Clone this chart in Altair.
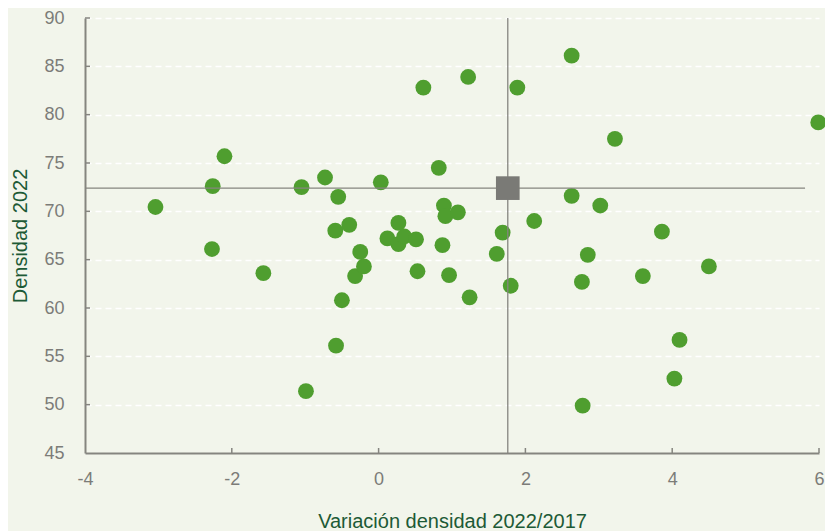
import altair as alt
import pandas as pd

# Data
var_x = [-3.04, -2.26, -2.10, -2.27, -1.57, -1.05, -0.99, -0.73, -0.55, -0.59,
         -0.40, -0.58, -0.50, -0.25, -0.32, -0.20, 0.03, 0.12, 0.27, 0.27,
         0.35, 0.51, 0.53, 0.61, 0.82, 0.87, 0.89, 0.91, 0.96, 1.08,
         1.22, 1.24, 1.61, 1.69, 1.80, 1.89, 2.12, 2.63, 2.63, 2.77,
         2.78, 2.85, 3.02, 3.22, 3.60, 3.86, 4.03, 4.10, 4.50, 5.99]
dens_y = [70.45, 72.6, 75.7, 66.1, 63.6, 72.5, 51.4, 73.5, 71.5, 68.0,
          68.6, 56.1, 60.8, 65.8, 63.3, 64.3, 73.0, 67.2, 68.8, 66.6,
          67.4, 67.1, 63.8, 82.8, 74.5, 66.5, 70.6, 69.5, 63.4, 69.9,
          83.9, 61.1, 65.6, 67.8, 62.3, 82.8, 69.0, 86.1, 71.6, 62.7,
          49.9, 65.5, 70.6, 77.5, 63.3, 67.9, 52.7, 56.7, 64.3, 79.2]
mean_x = [1.76]
mean_y = [72.4]
hline_end = [5.81]
x_ticks = [-4, -2, 0, 2, 4, 6]
y_ticks = [45, 50, 55, 60, 65, 70, 75, 80, 85, 90]

pts = pd.DataFrame({"x": var_x, "y": dens_y})
mean = pd.DataFrame({"x": mean_x, "y": mean_y})
hl = pd.DataFrame({"x": [x_ticks[0]], "x2": hline_end, "y": mean_y})
vl = pd.DataFrame({"x": mean_x, "y": [y_ticks[0]], "y2": [y_ticks[-1]]})
xt = pd.DataFrame({"x": x_ticks[1:]})
yt = pd.DataFrame({"y": y_ticks[1:]})

W, H = 734, 435
LABEL_C = "#7c7c78"
TITLE_C = "#1d5a36"
AXIS_C = "#85857f"
GREEN = "#4f9e2f"

xscale = alt.Scale(domain=[-4, 6], nice=False, zero=False)
yscale = alt.Scale(domain=[45, 90], nice=False, zero=False)

xaxis = alt.Axis(values=x_ticks, title="Variación densidad 2022/2017", grid=False,
                 ticks=False, tickSize=0, labelPadding=17, labelFontSize=18,
                 labelExpr="datum.value + ''",
                 labelColor=LABEL_C, labelFont="Liberation Sans",
                 titleFont="Liberation Sans", titleFontSize=20, titleColor=TITLE_C,
                 titleFontWeight="normal", titleBaseline="alphabetic", titleY=74,
                 domainColor=AXIS_C, domainWidth=2, labelFlush=False)
yaxis = alt.Axis(values=y_ticks, title="Densidad 2022", grid=True,
                 gridColor="white", gridDash=[6, 4], gridWidth=1.5,
                 ticks=False, tickSize=0, labelPadding=21, labelFontSize=18,
                 labelExpr="datum.value + ''",
                 labelColor=LABEL_C, labelFont="Liberation Sans",
                 titleFont="Liberation Sans", titleFontSize=20, titleColor=TITLE_C,
                 titleFontWeight="normal", titleBaseline="alphabetic",
                 titleX=-59, titleY=H / 2, titleAlign="center", titleAngle=-90,
                 domainColor=AXIS_C, domainWidth=2, labelFlush=False)

points = alt.Chart(pts).mark_circle(size=250, color=GREEN, opacity=1).encode(
    x=alt.X("x:Q", scale=xscale, axis=xaxis),
    y=alt.Y("y:Q", scale=yscale, axis=yaxis),
)

hrule = alt.Chart(hl).mark_rule(color=AXIS_C, strokeWidth=1.3).encode(
    x=alt.X("x:Q", scale=xscale), x2="x2:Q", y=alt.Y("y:Q", scale=yscale)
)
vrule = alt.Chart(vl).mark_rule(color=AXIS_C, strokeWidth=1.3).encode(
    x=alt.X("x:Q", scale=xscale), y=alt.Y("y:Q", scale=yscale), y2="y2:Q"
)
square = alt.Chart(mean).mark_square(size=560, color="#7a7a76", opacity=1).encode(
    x=alt.X("x:Q", scale=xscale), y=alt.Y("y:Q", scale=yscale)
)
xticks = alt.Chart(xt).mark_rule(color=AXIS_C, strokeWidth=1.5).encode(
    x=alt.X("x:Q", scale=xscale), y=alt.value(H), y2=alt.value(H - 5)
)
yticks = alt.Chart(yt).mark_rule(color=AXIS_C, strokeWidth=1.5).encode(
    y=alt.Y("y:Q", scale=yscale), x=alt.value(0), x2=alt.value(5)
)

chart = alt.layer(points, hrule, vrule, square, xticks, yticks).properties(
    width=W, height=H,
    background="#f2f5eb",
    padding={"left": 77, "top": 10, "right": 6, "bottom": 78},
    autosize=alt.AutoSizeParams(type="none"),
).configure_view(stroke=None)

chart.save("out.html", embed_options={"renderer": "svg", "actions": False})
